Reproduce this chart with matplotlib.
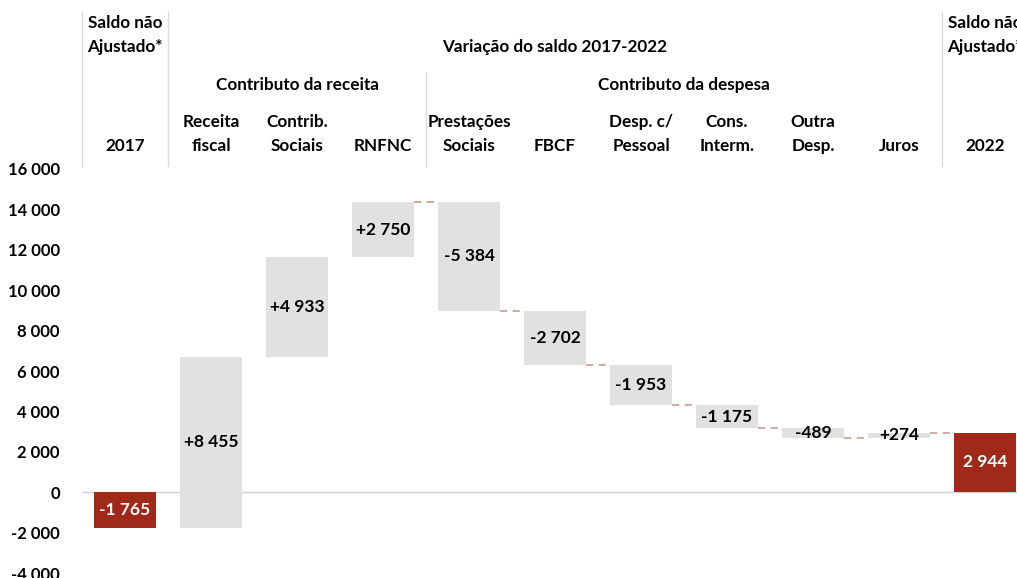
import numpy as np
import matplotlib.pyplot as plt
import matplotlib.transforms as mtransforms

plt.rcParams['font.family'] = ['Lato', 'DejaVu Sans']
plt.rcParams['font.weight'] = 'bold'

# data
categories = ['2017', 'Receita\nfiscal', 'Contrib.\nSociais', 'RNFNC', 'Prestações\nSociais', 'FBCF',
              'Desp. c/\nPessoal', 'Cons.\nInterm.', 'Outra\nDesp.', 'Juros', '2022']
changes = [-1765, 8455, 4933, 2750, -5384, -2702, -1953, -1175, -489, 274, 2944]
is_total = [True, False, False, False, False, False, False, False, False, False, True]
yticks = np.arange(-4000, 16001, 2000)

grey = '#E0E1E0'
red = '#A0291A'
conn = '#C8A59C'
sep = '#D9D9D9'

fig = plt.figure(figsize=(10.17, 5.78), dpi=100)
ax = fig.add_axes([82/1017, 5/578, 946/1017, 404/578])
x = np.arange(len(categories))

# bottoms and tops of the waterfall
bottoms, tops = [], []
level = 0
for v, tot in zip(changes, is_total):
    if tot:
        bottoms.append(0); tops.append(v); level = v
    else:
        bottoms.append(level); tops.append(level + v); level += v

w = 0.73
for i in range(len(x)):
    lo, hi = min(bottoms[i], tops[i]), max(bottoms[i], tops[i])
    col = red if is_total[i] else grey
    ax.bar(x[i], hi - lo, bottom=lo, width=w, color=col, zorder=2)
    if is_total[i]:
        txt = f"{changes[i]:,}".replace(',', ' ')
        tc = 'white'
    else:
        txt = f"{changes[i]:+,}".replace(',', ' ')
        tc = 'black'
    ax.text(x[i], (lo + hi) / 2, txt, ha='center', va='center', fontsize=12.5,
            color=tc, fontweight='bold', zorder=4)
    # connector to next bar (only drawn from RNFNC onwards in the original)
    if 3 <= i < len(x) - 1:
        ax.plot([x[i] + w/2, x[i+1] - w/2], [tops[i], tops[i]], ls=(0, (4, 3)),
                color=conn, lw=1.3, zorder=1)

ax.axhline(0, color='#D0D0D0', lw=1, zorder=1)
ax.set_xlim(-0.5, len(x) - 0.5)
ax.set_ylim(-4000, 16000)
ax.set_yticks(yticks)
ax.set_yticklabels([f"{t:,}".replace(',', ' ') for t in yticks], fontsize=12, fontweight='bold')
ax.tick_params(axis='y', length=0, pad=16)
ax.set_xticks([])
for s in ax.spines.values():
    s.set_visible(False)

# header area
tr = mtransforms.blended_transform_factory(ax.transData, fig.transFigure)
def fy(p):
    return 1 - p / 578

for xs, top in [(-0.5, 12), (0.5, 12), (3.5, 73), (9.5, 12)]:
    ax.plot([xs, xs], [fy(top), fy(166)], color=sep, lw=1, transform=tr, clip_on=False)

hs = 12.3
for i, lab in enumerate(categories):
    ax.text(x[i], fy(154), lab, transform=tr, ha='center', va='bottom', fontsize=hs,
            fontweight='bold', linespacing=1.6)
for xi in [0, 10]:
    ax.text(x[xi], fy(55), 'Saldo não\nAjustado*', transform=tr, ha='center', va='bottom',
            fontsize=hs, fontweight='bold', linespacing=1.6)
ax.text(5, fy(47), 'Variação do saldo 2017-2022', transform=tr, ha='center', va='center',
        fontsize=hs, fontweight='bold')
ax.text(2, fy(85), 'Contributo da receita', transform=tr, ha='center', va='center',
        fontsize=hs, fontweight='bold')
ax.text(6.5, fy(85), 'Contributo da despesa', transform=tr, ha='center', va='center',
        fontsize=hs, fontweight='bold')

fig.savefig('out.png', dpi=100)
